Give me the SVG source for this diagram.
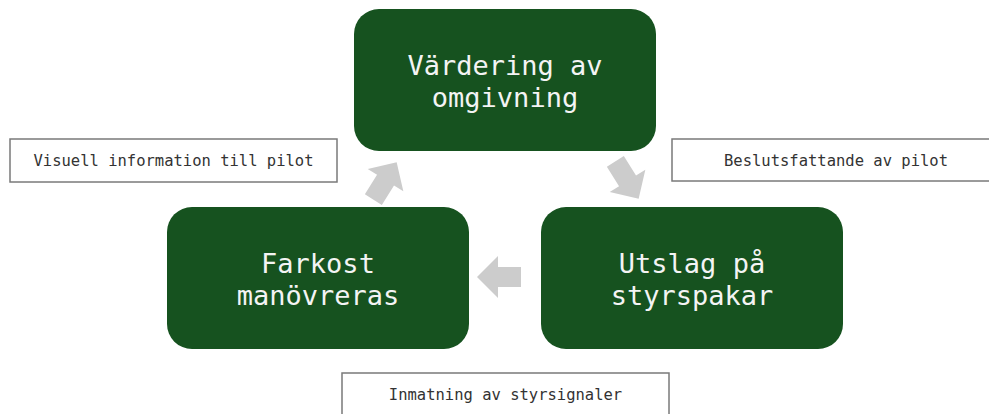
<svg xmlns="http://www.w3.org/2000/svg" xmlns:xlink="http://www.w3.org/1999/xlink" width="989" height="414" viewBox="0 0 989 414">
  <style>
    .node { fill: #16521f; }
    .ntext { fill: #f4f4f4; font-family: "DejaVu Sans Mono", "Liberation Mono", monospace; font-size: 27px; text-anchor: middle; }
    .lbox { fill: #ffffff; stroke: #7a7a7a; stroke-width: 1.5; }
    .ltext { fill: #333333; font-family: "DejaVu Sans Mono", "Liberation Mono", monospace; font-size: 15.5px; text-anchor: middle; }
    .arrow { fill: #cccccc; }
  </style>
  <defs>
    <path id="arr" d="M22,0 L1,-21 L1,-10 L-22,-10 L-22,10 L1,10 L1,21 Z"/>
  </defs>
  <rect width="989" height="414" fill="#ffffff"/>

  <g id="connectors">
    <use xlink:href="#arr" href="#arr" class="arrow" transform="translate(627,180) rotate(58)"/>
    <use xlink:href="#arr" href="#arr" class="arrow" transform="translate(499,277) rotate(180)"/>
    <use xlink:href="#arr" href="#arr" class="arrow" transform="translate(385,181) rotate(-58)"/>
  </g>

  <g id="node-vardering">
    <rect class="node" x="354" y="9" width="302" height="142" rx="25" ry="25"/>
    <text class="ntext" x="505" y="75">Värdering av</text>
    <text class="ntext" x="505" y="107">omgivning</text>
  </g>

  <g id="node-utslag">
    <rect class="node" x="541" y="207" width="302" height="142" rx="25" ry="25"/>
    <text class="ntext" x="692" y="273">Utslag på</text>
    <text class="ntext" x="692" y="305">styrspakar</text>
  </g>

  <g id="node-farkost">
    <rect class="node" x="167" y="207" width="302" height="142" rx="25" ry="25"/>
    <text class="ntext" x="318" y="273">Farkost</text>
    <text class="ntext" x="318" y="305">manövreras</text>
  </g>

  <g id="label-visuell">
    <rect class="lbox" x="10" y="139" width="327" height="43"/>
    <text class="ltext" x="173.5" y="166">Visuell information till pilot</text>
  </g>

  <g id="label-beslut">
    <rect class="lbox" x="672" y="139" width="328" height="42"/>
    <text class="ltext" x="836" y="166">Beslutsfattande av pilot</text>
  </g>

  <g id="label-inmatning">
    <rect class="lbox" x="342" y="373" width="327" height="43"/>
    <text class="ltext" x="505.5" y="400">Inmatning av styrsignaler</text>
  </g>
</svg>
